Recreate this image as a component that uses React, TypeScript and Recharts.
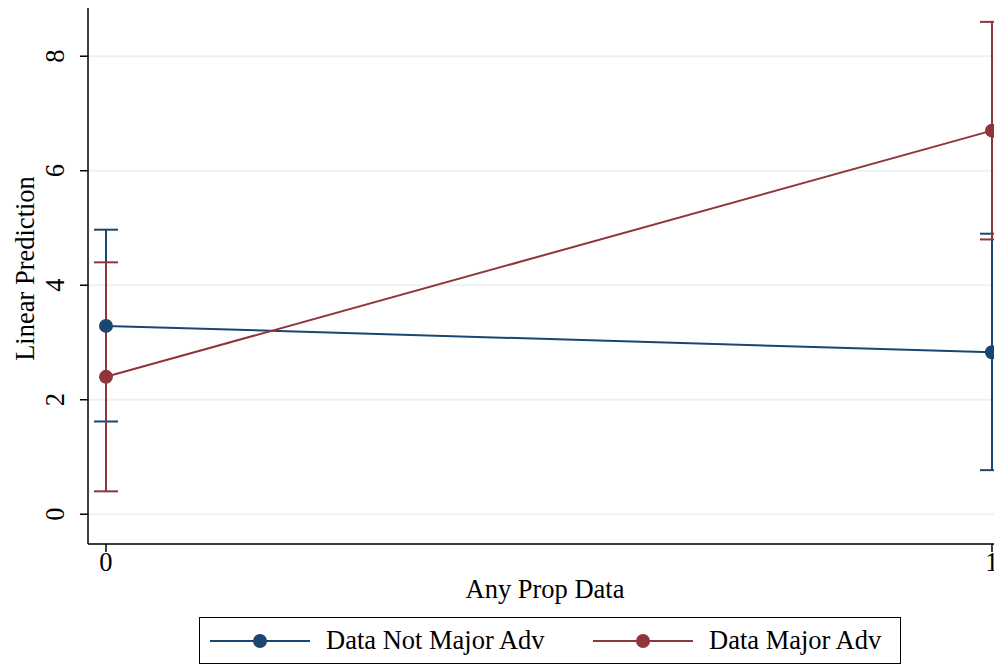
import {
  CartesianGrid,
  ComposedChart,
  ErrorBar,
  Legend,
  Line,
  XAxis,
  YAxis,
} from "recharts";

const xValues = [0, 1];
const notMajorAdv = [3.29, 2.83];
const notMajorLow = [1.62, 0.77];
const notMajorHigh = [4.97, 4.9];
const majorAdv = [2.4, 6.7];
const majorLow = [0.4, 4.8];
const majorHigh = [4.4, 8.6];
const yTicks = [0, 2, 4, 6, 8];

const BLUE = "#1a476f";
const RED = "#90353b";
const FONT = "'Liberation Serif', 'Times New Roman', serif";
const FS = 26.5;

const data = xValues.map((x, i) => ({
  x,
  notMajor: notMajorAdv[i],
  notMajorErr: [notMajorAdv[i] - notMajorLow[i], notMajorHigh[i] - notMajorAdv[i]],
  major: majorAdv[i],
  majorErr: [majorAdv[i] - majorLow[i], majorHigh[i] - majorAdv[i]],
}));

const YTick = (props: any) => {
  const { x, y, payload } = props;
  const bx = x - 16;
  return (
    <text
      x={bx}
      y={y}
      transform={`rotate(-90 ${bx} ${y})`}
      textAnchor="middle"
      fontFamily={FONT}
      fontSize={FS}
      fill="#000"
    >
      {payload.value}
    </text>
  );
};

const YLabel = (props: any) => {
  const { viewBox } = props;
  const bx = 34;
  const cy = viewBox.y + viewBox.height / 2 - 7;
  return (
    <text
      x={bx}
      y={cy}
      transform={`rotate(-90 ${bx} ${cy})`}
      textAnchor="middle"
      fontFamily={FONT}
      fontSize={FS}
      fill="#000"
    >
      Linear Prediction
    </text>
  );
};

const LegendBox = () => {
  const items = [
    { name: "Data Not Major Adv", color: BLUE, left: 10 },
    { name: "Data Major Adv", color: RED, left: 393 },
  ];
  return (
    <div
      style={{
        position: "relative",
        width: 700,
        height: 45,
        border: "1.5px solid #000",
        background: "#fff",
        fontFamily: FONT,
        fontSize: FS,
      }}
    >
      {items.map((it) => (
        <div
          key={it.name}
          style={{
            position: "absolute",
            left: it.left,
            top: 0,
            height: 45,
            display: "flex",
            alignItems: "center",
          }}
        >
          <svg width={100} height={20}>
            <line x1={0} y1={10} x2={100} y2={10} stroke={it.color} strokeWidth={2} />
            <circle cx={50} cy={10} r={7} fill={it.color} />
          </svg>
          <span style={{ marginLeft: 16, color: "#000" }}>{it.name}</span>
        </div>
      ))}
    </div>
  );
};

const App = () => {
  return (
    <div style={{ marginLeft: -8, marginTop: -8 }}>
      <ComposedChart
        width={1002}
        height={667}
        data={data}
        margin={{ top: 7, right: 0, left: 0, bottom: 63 }}
      >
        <CartesianGrid vertical={false} stroke="#eaf2f3" strokeWidth={2} />
        <XAxis
          type="number"
          dataKey="x"
          domain={[-0.0203, 1.0113]}
          ticks={xValues}
          allowDataOverflow
          height={60}
          tickSize={8}
          tickMargin={0}
          stroke="#000"
          strokeWidth={1.5}
          tick={{ fontFamily: FONT, fontSize: FS, fill: "#000" }}
          label={{
            value: "Any Prop Data",
            position: "insideBottom",
            offset: 6,
            style: { fontFamily: FONT, fontSize: FS, fill: "#000" },
          }}
        />
        <YAxis
          type="number"
          domain={[-0.52, 8.86]}
          ticks={yTicks}
          allowDataOverflow
          width={88}
          tickSize={8}
          tickMargin={0}
          stroke="#000"
          strokeWidth={1.5}
          tick={<YTick />}
          label={<YLabel />}
        />
        <Legend
          layout="horizontal"
          verticalAlign="middle"
          align="center"
          wrapperStyle={{ top: 617, left: 199, width: 703 }}
          content={<LegendBox />}
        />
        <Line
          dataKey="notMajor"
          stroke={BLUE}
          strokeWidth={2}
          dot={{ r: 7, fill: BLUE, stroke: BLUE, strokeWidth: 0 }}
          isAnimationActive={false}
        >
          <ErrorBar dataKey="notMajorErr" direction="y" width={12} stroke={BLUE} strokeWidth={2} />
        </Line>
        <Line
          dataKey="major"
          stroke={RED}
          strokeWidth={2}
          dot={{ r: 7, fill: RED, stroke: RED, strokeWidth: 0 }}
          isAnimationActive={false}
        >
          <ErrorBar dataKey="majorErr" direction="y" width={12} stroke={RED} strokeWidth={2} />
        </Line>
      </ComposedChart>
    </div>
  );
};

export default App;
